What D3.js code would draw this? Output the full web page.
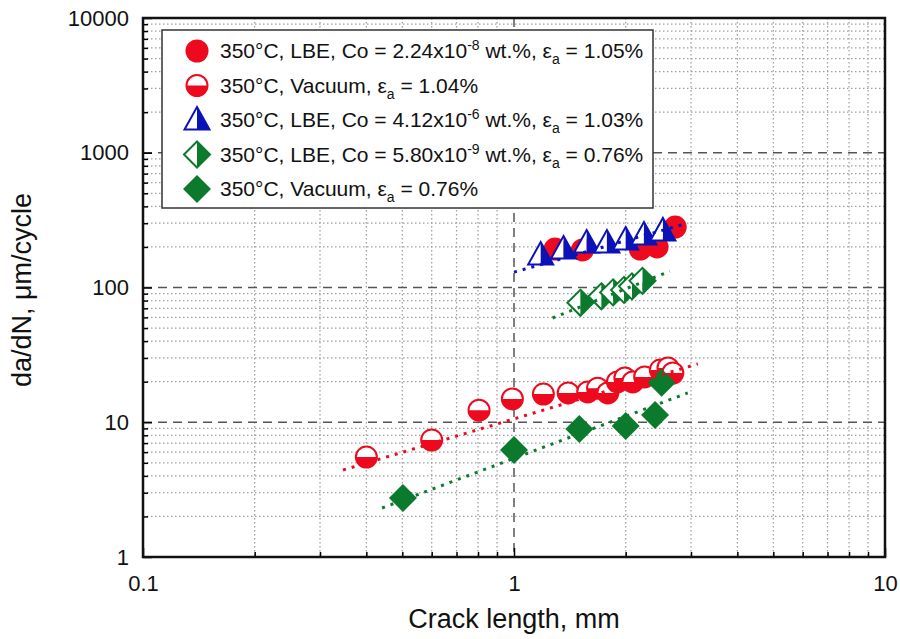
<!DOCTYPE html>
<html>
<head>
<meta charset="utf-8">
<script src="https://cdn.jsdelivr.net/npm/d3@7"></script>
<style>
  body { margin: 0; background: #fff; }
  svg { display: block; font-family: Arial, "Liberation Sans", sans-serif; }
</style>
</head>
<body>
<svg id="chart" width="900" height="639"></svg>
<script>
// values: [crack length mm, da/dN um/cycle]
const lbeCo224 = [[1.29,193],[1.53,190],[2.19,193],[2.43,200],[2.72,281]];
const vac104 = [[0.40,5.52],[0.60,7.38],[0.805,12.3],[0.99,14.9],[1.20,16.2],[1.40,16.5],
  [1.58,16.8],[1.68,17.9],[1.79,16.5],[1.90,19.9],[1.99,21.3],[2.09,19.9],[2.25,21.7],
  [2.48,24.4],[2.60,25.3],[2.68,23.2]];
const lbeCo412 = [[1.18,174],[1.36,193],[1.57,214],[1.78,214],[2.00,225],[2.24,245],[2.52,263]];
const lbeCo580 = [[1.51,77],[1.72,86],[1.85,92],[1.98,96],[2.08,102],[2.22,112]];
const vac076 = [[0.502,2.74],[1.0,6.22],[1.50,8.91],[2.00,9.38],[2.40,11.3],[2.50,19.6]];

// dotted fit lines (end points)
const fitVac104 = [[0.346,4.42],[3.13,27.1]];
const fitVac076 = [[0.441,2.31],[2.94,16.5]];
const fitCo412 = [[1.0,130],[2.89,296]];
const fitCo580 = [[1.27,59.4],[2.63,132]];

const legendLabels = [
  [["350°C, LBE, Co = 2.24x10"],["-8","sup"],[" wt.%, ε"],["a","sub"],[" = 1.05%"]],
  [["350°C, Vacuum, ε"],["a","sub"],[" = 1.04%"]],
  [["350°C, LBE, Co = 4.12x10"],["-6","sup"],[" wt.%, ε"],["a","sub"],[" = 1.03%"]],
  [["350°C, LBE, Co = 5.80x10"],["-9","sup"],[" wt.%, ε"],["a","sub"],[" = 0.76%"]],
  [["350°C, Vacuum, ε"],["a","sub"],[" = 0.76%"]]
];

const RED = "#ee0a1e", BLUE = "#0a12b8", GREEN = "#0b7a2c";

const svg = d3.select("#chart");
const x = d3.scaleLog().domain([0.1, 10]).range([143, 885]);
const y = d3.scaleLog().domain([1, 10000]).range([557, 18]);

const isMajor = v => Math.abs(Math.log10(v) - Math.round(Math.log10(v))) < 1e-9;

// grid
const grid = svg.append("g");
grid.selectAll(".gx").data(x.ticks().filter(v => v > 0.1 && v < 10))
  .enter().append("line")
  .attr("x1", d => x(d)).attr("x2", d => x(d)).attr("y1", 18).attr("y2", 557)
  .attr("stroke", d => isMajor(d) ? "#555" : "#a0a0a0")
  .attr("stroke-width", d => isMajor(d) ? 1.5 : 1.3)
  .attr("stroke-dasharray", d => isMajor(d) ? "9,6" : "1.5,2.5");
grid.selectAll(".gy").data(y.ticks().filter(v => v > 1 && v < 10000))
  .enter().append("line")
  .attr("y1", d => y(d)).attr("y2", d => y(d)).attr("x1", 143).attr("x2", 885)
  .attr("stroke", d => isMajor(d) ? "#555" : "#a0a0a0")
  .attr("stroke-width", d => isMajor(d) ? 1.5 : 1.3)
  .attr("stroke-dasharray", d => isMajor(d) ? "9,6" : "1.5,2.5");

// marker shapes
function fullCircle(g, c) {
  g.append("circle").attr("r", 11.5).attr("fill", c);
}
function halfCircle(g, c) {
  const r = 10.5;
  g.append("path").attr("d", `M${-r},0 A${r},${r} 0 0,1 ${r},0 Z`).attr("fill", "#fff");
  g.append("path").attr("d", `M${-r},0 A${r},${r} 0 0,0 ${r},0 Z`).attr("fill", c);
  g.append("circle").attr("r", r).attr("fill", "none").attr("stroke", c).attr("stroke-width", 2);
}
function halfTriangle(g, c) {
  const w = 12.5, t = -13, b = 9.5;
  g.append("path").attr("d", `M0,${t} L0,${b} L${-w},${b} Z`).attr("fill", "#fff");
  g.append("path").attr("d", `M0,${t} L${w},${b} L0,${b} Z`).attr("fill", c);
  g.append("path").attr("d", `M0,${t} L${w},${b} L${-w},${b} Z`)
    .attr("fill", "none").attr("stroke", c).attr("stroke-width", 2).attr("stroke-linejoin", "miter");
}
function halfDiamond(g, c) {
  const s = 13;
  g.append("path").attr("d", `M0,${-s} L0,${s} L${-s},0 Z`).attr("fill", "#fff");
  g.append("path").attr("d", `M0,${-s} L${s},0 L0,${s} Z`).attr("fill", c);
  g.append("path").attr("d", `M0,${-s} L${s},0 L0,${s} L${-s},0 Z`)
    .attr("fill", "none").attr("stroke", c).attr("stroke-width", 2);
}
function fullDiamond(g, c) {
  const s = 14;
  g.append("path").attr("d", `M0,${-s} L${s},0 L0,${s} L${-s},0 Z`).attr("fill", c);
}

const series = [
  {data: lbeCo224, draw: fullCircle, color: RED},
  {data: vac104, draw: halfCircle, color: RED},
  {data: lbeCo412, draw: halfTriangle, color: BLUE},
  {data: lbeCo580, draw: halfDiamond, color: GREEN},
  {data: vac076, draw: fullDiamond, color: GREEN}
];

const marks = svg.append("g");
series.forEach(s => {
  marks.append("g").selectAll("g").data(s.data).enter().append("g")
    .attr("transform", d => `translate(${x(d[0])},${y(d[1])})`)
    .each(function() { s.draw(d3.select(this), s.color); });
});

// fit lines
const line = d3.line().x(d => x(d[0])).y(d => y(d[1]));
[[fitVac104, RED], [fitVac076, GREEN], [fitCo412, BLUE], [fitCo580, GREEN]].forEach(([f, c]) => {
  svg.append("path").attr("d", line(f)).attr("fill", "none").attr("stroke", c)
    .attr("stroke-width", 3).attr("stroke-dasharray", "3,6");
});

// axes, ticks inside
function styleTicks(g) {
  g.select(".domain").remove();
  g.selectAll(".tick line").attr("stroke", "#000").attr("stroke-width", 1.5);
  g.selectAll(".tick text").attr("font-size", 22).attr("fill", "#111");
}
const xAx = svg.append("g").attr("transform", "translate(0,557)")
  .call(d3.axisBottom(x).tickValues(x.ticks()).tickSize(-5).tickPadding(14)
    .tickFormat(d => isMajor(d) ? d3.format("~g")(d) : ""));
styleTicks(xAx);
xAx.selectAll(".tick line").filter(d => isMajor(d)).attr("y2", -9);
xAx.selectAll(".tick text").attr("dy", "0.9em");

const yAx = svg.append("g").attr("transform", "translate(143,0)")
  .call(d3.axisLeft(y).tickValues(y.ticks()).tickSize(-5).tickPadding(14)
    .tickFormat(d => isMajor(d) ? d3.format("~g")(d) : ""));
styleTicks(yAx);
yAx.selectAll(".tick line").filter(d => isMajor(d)).attr("x2", 9);

// frame
svg.append("rect").attr("x", 143).attr("y", 18).attr("width", 742).attr("height", 539)
  .attr("fill", "none").attr("stroke", "#111").attr("stroke-width", 2.5);

// legend
const lg = svg.append("g");
lg.append("rect").attr("x", 162).attr("y", 30).attr("width", 491).attr("height", 178)
  .attr("fill", "#fff").attr("stroke", "#333").attr("stroke-width", 1.5);
legendLabels.forEach((parts, i) => {
  const cy = 51 + i * 34.5;
  const m = lg.append("g").attr("transform", `translate(197,${cy})`);
  series[i].draw(m, series[i].color);
  const t = lg.append("text").attr("x", 220).attr("y", cy + 7).attr("font-size", 21).attr("fill", "#111");
  let shift = 0;
  parts.forEach(([s, kind]) => {
    const sp = t.append("tspan").text(s);
    let target = kind === "sup" ? -8 : kind === "sub" ? 6 : 0;
    sp.attr("dy", target - shift);
    shift = target;
    if (kind) sp.attr("font-size", 14);
  });
});

// axis titles
svg.append("text").attr("x", 514).attr("y", 628).attr("text-anchor", "middle")
  .attr("font-size", 27).attr("fill", "#111").text("Crack length, mm");
svg.append("text").attr("transform", "translate(31,290) rotate(-90)").attr("text-anchor", "middle")
  .attr("font-size", 27).attr("fill", "#111").text("da/dN, μm/cycle");
</script>
</body>
</html>
